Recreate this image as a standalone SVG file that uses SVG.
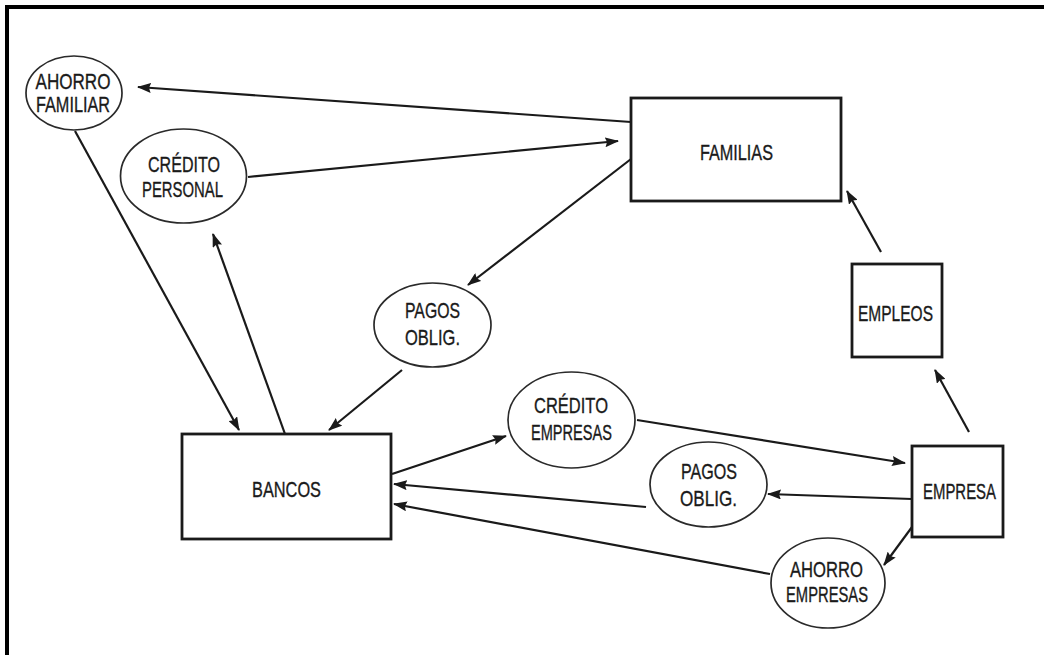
<svg xmlns="http://www.w3.org/2000/svg" width="1044" height="655" viewBox="0 0 1044 655">
  <style>
    .box { fill: #ffffff; stroke: #1a1a1a; stroke-width: 2.8; }
    .ell { fill: #ffffff; stroke: #2a2a2a; stroke-width: 1.7; }
    .lbl { font-family: "Liberation Sans", Arial, sans-serif; font-size: 22px; fill: #1a1a1a; stroke: #1a1a1a; stroke-width: 0.35; text-anchor: middle; }
    .conn line { stroke: #1a1a1a; stroke-width: 2.2; fill: none; }
  </style>
  <defs>
    <marker id="arr" markerUnits="userSpaceOnUse" markerWidth="14" markerHeight="10" refX="13" refY="5" orient="auto">
      <path d="M0,0 L14,5 L0,10 L2,5 z" fill="#1a1a1a"/>
    </marker>
  </defs>
  <rect x="0" y="0" width="1044" height="655" fill="#ffffff"/>
  <g id="frame">
    <line x1="5" y1="7" x2="1044" y2="7" stroke="#000" stroke-width="4"/>
    <line x1="7" y1="5" x2="7" y2="655" stroke="#000" stroke-width="4"/>
  </g>

  <g class="conn" id="connectors">
    <line x1="631" y1="122" x2="138" y2="87" marker-end="url(#arr)"/>
    <line x1="248" y1="177" x2="618" y2="141" marker-end="url(#arr)"/>
    <line x1="631" y1="159" x2="468" y2="285" marker-end="url(#arr)"/>
    <line x1="75" y1="131" x2="239" y2="430" marker-end="url(#arr)"/>
    <line x1="285" y1="434" x2="213" y2="234" marker-end="url(#arr)"/>
    <line x1="402" y1="370" x2="329" y2="430" marker-end="url(#arr)"/>
    <line x1="392" y1="474" x2="506" y2="436" marker-end="url(#arr)"/>
    <line x1="637" y1="420" x2="905" y2="463" marker-end="url(#arr)"/>
    <line x1="912" y1="499" x2="768" y2="494" marker-end="url(#arr)"/>
    <line x1="646" y1="507" x2="394" y2="484" marker-end="url(#arr)"/>
    <line x1="770" y1="574" x2="394" y2="504" marker-end="url(#arr)"/>
    <line x1="912" y1="527" x2="884" y2="565" marker-end="url(#arr)"/>
    <line x1="969" y1="432" x2="935" y2="370" marker-end="url(#arr)"/>
    <line x1="881" y1="252" x2="847" y2="191" marker-end="url(#arr)"/>
  </g>

  <g id="ahorro-familiar">
    <ellipse class="ell" cx="74" cy="93" rx="48" ry="37"/>
    <text class="lbl" x="73" y="89" textLength="75" lengthAdjust="spacingAndGlyphs">AHORRO</text>
    <text class="lbl" x="73" y="112" textLength="74" lengthAdjust="spacingAndGlyphs">FAMILIAR</text>
  </g>
  <g id="credito-personal">
    <ellipse class="ell" cx="183.5" cy="176" rx="63" ry="47"/>
    <text class="lbl" x="184" y="172" textLength="72" lengthAdjust="spacingAndGlyphs">CRÉDITO</text>
    <text class="lbl" x="182.5" y="197" textLength="81" lengthAdjust="spacingAndGlyphs">PERSONAL</text>
  </g>
  <g id="familias">
    <rect class="box" x="631" y="98" width="210" height="103"/>
    <text class="lbl" x="736.5" y="160" textLength="73" lengthAdjust="spacingAndGlyphs">FAMILIAS</text>
  </g>
  <g id="empleos">
    <rect class="box" x="852" y="264" width="90" height="93"/>
    <text class="lbl" x="895.5" y="321" textLength="75" lengthAdjust="spacingAndGlyphs">EMPLEOS</text>
  </g>
  <g id="pagos-oblig-familias">
    <ellipse class="ell" cx="432.5" cy="325" rx="58.5" ry="42"/>
    <text class="lbl" x="432.5" y="318" textLength="55" lengthAdjust="spacingAndGlyphs">PAGOS</text>
    <text class="lbl" x="432.5" y="345" textLength="55" lengthAdjust="spacingAndGlyphs">OBLIG.</text>
  </g>
  <g id="bancos">
    <rect class="box" x="182" y="434" width="209" height="105"/>
    <text class="lbl" x="286.5" y="497" textLength="69" lengthAdjust="spacingAndGlyphs">BANCOS</text>
  </g>
  <g id="credito-empresas">
    <ellipse class="ell" cx="571.5" cy="420" rx="63.5" ry="48"/>
    <text class="lbl" x="571" y="413" textLength="74" lengthAdjust="spacingAndGlyphs">CRÉDITO</text>
    <text class="lbl" x="571.5" y="440" textLength="81" lengthAdjust="spacingAndGlyphs">EMPRESAS</text>
  </g>
  <g id="pagos-oblig-empresa">
    <ellipse class="ell" cx="708.5" cy="484.5" rx="58.5" ry="42.5"/>
    <text class="lbl" x="709" y="479" textLength="56" lengthAdjust="spacingAndGlyphs">PAGOS</text>
    <text class="lbl" x="708.5" y="506" textLength="57" lengthAdjust="spacingAndGlyphs">OBLIG.</text>
  </g>
  <g id="empresa">
    <rect class="box" x="912" y="446" width="91" height="91"/>
    <text class="lbl" x="959.5" y="499" textLength="73" lengthAdjust="spacingAndGlyphs">EMPRESA</text>
  </g>
  <g id="ahorro-empresas">
    <ellipse class="ell" cx="828" cy="583" rx="57" ry="45"/>
    <text class="lbl" x="826.5" y="577" textLength="73" lengthAdjust="spacingAndGlyphs">AHORRO</text>
    <text class="lbl" x="827" y="602" textLength="82" lengthAdjust="spacingAndGlyphs">EMPRESAS</text>
  </g>
</svg>
